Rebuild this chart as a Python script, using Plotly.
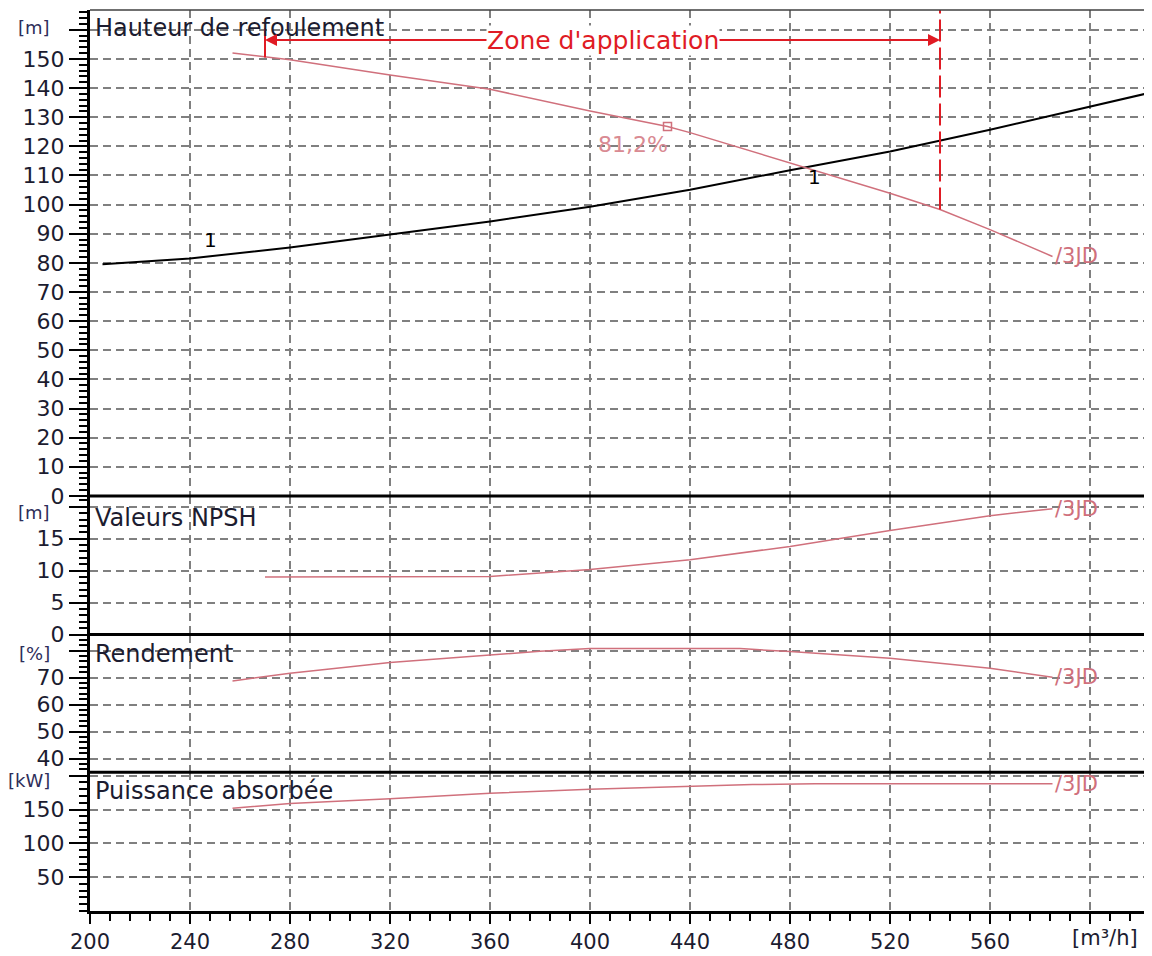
import plotly.graph_objects as go

# ---------------- data ----------------
q_ticks = [200, 240, 280, 320, 360, 400, 440, 480, 520, 560, 600]
q_tick_text = ["200", "240", "280", "320", "360", "400", "440", "480", "520", "560", ""]

# Head panel: system curve "1"
sys_q = [205, 240, 280, 320, 360, 400, 440, 480, 520, 560, 600, 622]
sys_h = [79.5, 81.5, 85.3, 89.7, 94.2, 99.3, 105.1, 111.8, 118.2, 125.7, 133.6, 138.0]

# Head panel: pump curve /3JD
pump_q = [257, 280, 320, 360, 400, 431, 440, 480, 520, 540, 560, 585]
pump_h = [152.0, 149.7, 144.5, 139.6, 132.1, 126.8, 124.7, 114.4, 103.9, 98.3, 91.4, 82.2]

# Best efficiency marker
bep_q = [431]
bep_h = [126.8]
bep_label = "81,2%"

# Operating point
op_q = 487
op_h = 112.8

# Zone d'application
zone_q = [270, 540]
zone_h = 156.5
zone_left_h = [150.5, 160.5]
zone_right_h = [98.3, 167.0]

# NPSH panel
npsh_q = [270, 360, 400, 440, 480, 520, 560, 585]
npsh_v = [9.0, 9.1, 10.2, 11.7, 13.8, 16.3, 18.6, 19.7]

# Efficiency panel
eta_q = [257, 280, 320, 360, 380, 400, 460, 480, 520, 560, 585]
eta_v = [68.7, 71.6, 75.6, 78.2, 79.7, 80.7, 80.7, 79.6, 77.1, 73.4, 70.1]

# Power panel
pow_q = [257, 280, 320, 360, 400, 440, 465, 490, 560, 585]
pow_v = [152, 159, 166, 174, 180, 184, 187, 188, 188, 188]

head_ticks = list(range(0, 170, 10))
npsh_ticks = [0, 5, 10, 15, 20]
eta_ticks = [40, 50, 60, 70, 80]
pow_ticks = [50, 100, 150, 200]

# ---------------- styling ----------------
FONT = "DejaVu Sans"
PINK = "#d0707c"
RED = "#e01b24"
TXT = "#1c1c30"
UNIT = "#2e2e5a"

domains = [[0.4607, 1.0], [0.3068, 0.4607], [0.1539, 0.3068], [0.0, 0.1539]]
ranges = [[0, 166.8], [0, 21.7], [34.9, 85.9], [0, 205]]
minor_dt = [2, 1, 2, 10]
tickv = [head_ticks, npsh_ticks, eta_ticks, pow_ticks]

fig = go.Figure()

# panel 1
fig.add_trace(go.Scatter(x=sys_q, y=sys_h, mode="lines", line=dict(color="black", width=2),
                         xaxis="x", yaxis="y", hoverinfo="skip"))
fig.add_trace(go.Scatter(x=pump_q, y=pump_h, mode="lines", line=dict(color=PINK, width=1.5),
                         xaxis="x", yaxis="y", hoverinfo="skip"))
fig.add_trace(go.Scatter(x=bep_q, y=bep_h, mode="markers",
                         marker=dict(symbol="square-open", size=8, color=PINK, line=dict(width=1.5)),
                         xaxis="x", yaxis="y", hoverinfo="skip"))
fig.add_trace(go.Scatter(x=[zone_q[0], zone_q[0]], y=zone_left_h, mode="lines",
                         line=dict(color=RED, width=2), xaxis="x", yaxis="y", hoverinfo="skip"))
fig.add_trace(go.Scatter(x=[zone_q[1], zone_q[1]], y=zone_right_h, mode="lines",
                         line=dict(color=RED, width=2, dash="22px,6px"), xaxis="x", yaxis="y", hoverinfo="skip"))
# panel 2-4
fig.add_trace(go.Scatter(x=npsh_q, y=npsh_v, mode="lines", line=dict(color=PINK, width=1.5),
                         xaxis="x2", yaxis="y2", hoverinfo="skip"))
fig.add_trace(go.Scatter(x=eta_q, y=eta_v, mode="lines", line=dict(color=PINK, width=1.5),
                         xaxis="x3", yaxis="y3", hoverinfo="skip"))
fig.add_trace(go.Scatter(x=pow_q, y=pow_v, mode="lines", line=dict(color=PINK, width=1.5),
                         xaxis="x4", yaxis="y4", hoverinfo="skip"))

grid = dict(showgrid=True, gridcolor="#808080", gridwidth=1.5, griddash="8px,5px", zeroline=False)

layout = dict(
    width=1144, height=948,
    margin=dict(l=82, r=7, t=2, b=43),
    paper_bgcolor="white", plot_bgcolor="white",
    showlegend=False,
    font=dict(family=FONT, color=TXT),
)

for i in range(4):
    xn = "xaxis" if i == 0 else f"xaxis{i+1}"
    yn = "yaxis" if i == 0 else f"yaxis{i+1}"
    ya = "y" if i == 0 else f"y{i+1}"
    xa = dict(grid, domain=[0, 1], range=[200, 622], anchor=ya,
              tickvals=q_ticks, ticktext=q_tick_text)
    if i > 0:
        xa["matches"] = "x"
    if i == 3:
        xa.update(ticks="outside", ticklen=10, tickwidth=2, tickcolor="black",
                  showline=True, linewidth=3, linecolor="black",
                  tickfont=dict(family=FONT, size=21, color=TXT),
                  minor=dict(dtick=8, tick0=200, ticks="outside", ticklen=7,
                             tickwidth=2, tickcolor="black", showgrid=False))
    else:
        xa.update(showticklabels=False, ticks="")
    layout[xn] = xa
    ylabels = [str(v) for v in tickv[i]]
    ylabels[-1] = ""  # top gridline label replaced by the unit text
    layout[yn] = dict(grid, domain=domains[i], range=ranges[i], anchor="x" if i == 0 else f"x{i+1}",
                      tickvals=tickv[i], ticktext=ylabels,
                      ticks="outside", ticklen=18, tickwidth=2, tickcolor="black",
                      showline=True, linewidth=3, linecolor="black",
                      tickfont=dict(family=FONT, size=22, color=TXT),
                      minor=dict(dtick=minor_dt[i], ticks="outside", ticklen=8,
                                 tickwidth=1.5, tickcolor="black", showgrid=False))

fig.update_layout(**layout)

# panel borders
shapes = []
for d in domains[:3]:
    shapes.append(dict(type="line", xref="paper", yref="paper", x0=0, x1=1, y0=d[0], y1=d[0],
                       line=dict(color="black", width=3)))
shapes.append(dict(type="line", xref="paper", yref="paper", x0=0, x1=1, y0=1, y1=1,
                   line=dict(color="#404040", width=1.5)))
shapes.append(dict(type="line", xref="paper", yref="paper", x0=1, x1=1, y0=0, y1=1,
                   line=dict(color="black", width=2)))
fig.update_layout(shapes=shapes)

ann = []
# panel titles
titles = [("Hauteur de refoulement", "y", 0.963), ("Valeurs NPSH", "y2", 0.842),
          ("Rendement", "y3", 0.862), ("Puissance absorbée", "y4", 0.863)]
for t, yr, yy in titles:
    ann.append(dict(text=t, xref="paper", x=0.003, xanchor="left", yref=f"{yr} domain", y=yy,
                    yanchor="middle", showarrow=False, font=dict(family=FONT, size=24, color=TXT)))
# unit labels
units = [("[m]", "y", 0.963), ("[m]", "y2", 0.88), ("[%]", "y3", 0.86), ("[kW]", "y4", 0.94)]
for t, yr, yy in units:
    ann.append(dict(text=t, xref="paper", x=-0.036, xanchor="right", yref=f"{yr} domain", y=yy,
                    yanchor="middle", showarrow=False, font=dict(family=FONT, size=18, color=UNIT)))
ann.append(dict(text="[m³/h]", xref="paper", x=0.962, xanchor="center", yref="paper", y=-0.030,
                yanchor="middle", showarrow=False, font=dict(family=FONT, size=21, color=TXT)))

# zone d'application arrows and label
zone_mid = (zone_q[0] + zone_q[1]) / 2
for end in zone_q:
    ann.append(dict(text="", x=end, y=zone_h, xref="x", yref="y", ax=zone_mid, ay=zone_h,
                    axref="x", ayref="y", showarrow=True, arrowhead=2, arrowsize=1.2,
                    arrowwidth=2, arrowcolor=RED, standoff=0))
ann.append(dict(text="Zone d'application", x=zone_mid, y=zone_h, xref="x", yref="y",
                showarrow=False, bgcolor="white", font=dict(family=FONT, size=25, color=RED),
                borderpad=0))

# curve labels
ann.append(dict(text="1", x=248, y=88, xref="x", yref="y", showarrow=False,
                font=dict(family=FONT, size=20, color="black")))
ann.append(dict(text="1", x=op_q, y=op_h, xref="x", yref="y", showarrow=False,
                xanchor="left", yanchor="top", xshift=-2, yshift=4,
                font=dict(family=FONT, size=20, color="black")))
ann.append(dict(text=bep_label, x=bep_q[0], y=bep_h[0], xref="x", yref="y", showarrow=False,
                xanchor="right", yanchor="top", xshift=2, yshift=-3,
                font=dict(family=FONT, size=22, color="#d98a92")))
ends = [(pump_q[-1], pump_h[-1], "y"), (npsh_q[-1], npsh_v[-1], "y2"),
        (eta_q[-1], eta_v[-1], "y3"), (pow_q[-1], pow_v[-1], "y4")]
for xq, yv, yr in ends:
    ann.append(dict(text="/3JD", x=xq, y=yv, xref="x", yref=yr, showarrow=False,
                    xanchor="left", yanchor="middle", font=dict(family=FONT, size=21, color=PINK)))

fig.update_layout(annotations=ann)
fig.write_html("out.html")
